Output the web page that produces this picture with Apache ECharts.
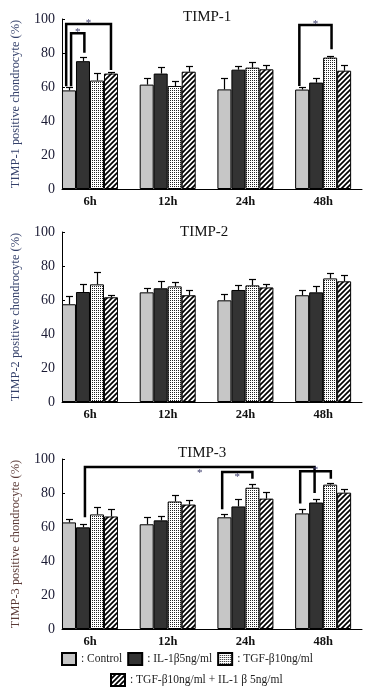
<!DOCTYPE html>
<html><head><meta charset="utf-8">
<script src="https://cdn.jsdelivr.net/npm/echarts@6/dist/echarts.min.js"></script>
<style>html,body{margin:0;padding:0;background:#fff}#c{width:374px;height:694px}</style>
</head><body><div id="c"></div>
<script>
// ---------- DATA ----------
const categories = ['6h', '12h', '24h', '48h'];
const seriesNames = ['Control', 'IL-1β5ng/ml', 'TGF-β10ng/ml', 'TGF-β10ng/ml + IL-1 β 5ng/ml'];
const panelTitles = ['TIMP-1', 'TIMP-2', 'TIMP-3'];
const yAxisNames = ['TIMP-1 positive chondrocyte (%)', 'TIMP-2 positive chondrocyte (%)', 'TIMP-3 positive chondrocyte (%)'];
const yTicks = [0, 20, 40, 60, 80, 100];

// TIMP-1
const timp1Control = [58.0, 61.4, 58.6, 58.5];
const timp1IL = [75.2, 67.9, 70.2, 62.6];
const timp1TGF = [63.8, 60.6, 71.4, 77.3];
const timp1Combo = [67.9, 69.0, 70.4, 69.6];
const timp1ControlErr = [1.8, 3.7, 6.9, 1.7];
const timp1ILErr = [2.7, 3.9, 2.4, 2.9];
const timp1TGFErr = [4.7, 3.2, 3.5, 1.2];
const timp1ComboErr = [1.1, 3.6, 2.8, 3.6];

// TIMP-2
const timp2Control = [57.5, 64.5, 59.8, 62.8];
const timp2IL = [64.7, 66.9, 65.9, 64.5];
const timp2TGF = [69.2, 68.0, 68.6, 72.7];
const timp2Combo = [61.6, 62.8, 67.4, 71.0];
const timp2ControlErr = [4.7, 2.7, 3.9, 2.9];
const timp2ILErr = [4.5, 4.1, 2.7, 3.5];
const timp2TGFErr = [7.1, 2.4, 3.6, 3.0];
const timp2ComboErr = [1.5, 2.9, 1.8, 3.5];

// TIMP-3
const timp3Control = [62.7, 61.6, 65.7, 68.0];
const timp3IL = [59.8, 63.9, 72.1, 74.4];
const timp3TGF = [67.4, 75.0, 83.1, 84.9];
const timp3Combo = [66.2, 73.2, 76.7, 80.2];
const timp3ControlErr = [1.8, 4.1, 1.7, 2.3];
const timp3ILErr = [1.8, 2.3, 4.6, 2.3];
const timp3TGFErr = [4.1, 4.1, 2.4, 1.2];
const timp3ComboErr = [4.1, 2.9, 4.1, 2.4];

// significance brackets: [group1, barSlot1, legBottom1, group2, barSlot2, legBottom2, barTop, asteriskY]
const timp1Brackets = [
  [0, -0.2, 60.5, 0, 3.0, 70.0, 97.0, 98.6],
  [0, 0.15, 60.5, 0, 1.1, 80.2, 91.6, 93.6],
  [3, -0.2, 60.6, 3, 2.1, 82.2, 96.5, 98.0]
];
const timp2Brackets = [];
const timp3Brackets = [
  [0, 1.14, 65.7, 3, 0.89, 80.0, 95.3, 92.6],
  [2, -0.16, 70.5, 2, 2.0, 88.4, 92.3, 90.6],
  [3, -0.14, 73.8, 3, 2.05, 88.4, 92.8, 94.8]
];

// ---------- STYLE / BUILD ----------
const BAR_W = 14;
const FONT = "'Liberation Serif', 'Times New Roman', serif";

function dotPattern() {
  const c = document.createElement('canvas'); c.width = 2; c.height = 2;
  const x = c.getContext('2d');
  x.fillStyle = '#fff'; x.fillRect(0, 0, 2, 2);
  x.fillStyle = '#222';
  x.fillRect(0, 0, 1, 1);
  return c;
}
function hatchPattern() {
  const s = 5;
  const c = document.createElement('canvas'); c.width = s; c.height = s;
  const x = c.getContext('2d');
  x.fillStyle = '#fff'; x.fillRect(0, 0, s, s);
  x.strokeStyle = '#000'; x.lineWidth = 1.7;
  x.beginPath();
  x.moveTo(-1, s + 1); x.lineTo(s + 1, -1);
  x.moveTo(-1, 1); x.lineTo(1, -1);
  x.moveTo(s - 1, s + 1); x.lineTo(s + 1, s - 1);
  x.stroke();
  return c;
}
const fills = ['#c6c6c6', '#333333', { image: dotPattern(), repeat: 'repeat' }, { image: hatchPattern(), repeat: 'repeat' }];

const panels = [
  { means: [timp1Control, timp1IL, timp1TGF, timp1Combo], errs: [timp1ControlErr, timp1ILErr, timp1TGFErr, timp1ComboErr], brackets: timp1Brackets, nameColor: '#34406a' },
  { means: [timp2Control, timp2IL, timp2TGF, timp2Combo], errs: [timp2ControlErr, timp2ILErr, timp2TGFErr, timp2ComboErr], brackets: timp2Brackets, nameColor: '#34406a' },
  { means: [timp3Control, timp3IL, timp3TGF, timp3Combo], errs: [timp3ControlErr, timp3ILErr, timp3TGFErr, timp3ComboErr], brackets: timp3Brackets, nameColor: '#5b3a36' }
];
const gridTops = [19, 232, 459];
const titleTops = [10, 225, 446];
const titleLefts = [183, 180, 178];

function errRender(params, api) {
  const g = api.value(0), s = api.value(1), v = api.value(2), e = api.value(3);
  const base = api.coord([g, v]), top = api.coord([g, v + e]);
  const x = Math.round(base[0] + (s - 1.5) * BAR_W) + 0.5;
  const yt = Math.round(top[1]) + 0.5;
  return { type: 'group', children: [
    { type: 'line', shape: { x1: x, y1: base[1], x2: x, y2: yt }, style: { stroke: '#000', lineWidth: 1.2 } },
    { type: 'line', shape: { x1: x - 3.5, y1: yt, x2: x + 3.5, y2: yt }, style: { stroke: '#000', lineWidth: 1.2 } }
  ] };
}
function bracketRender(params, api) {
  const a = api.coord([api.value(0), api.value(2)]);
  const b = api.coord([api.value(3), api.value(5)]);
  const xa = a[0] + (api.value(1) - 1.5) * BAR_W;
  const xb = b[0] + (api.value(4) - 1.5) * BAR_W;
  const yt = api.coord([api.value(0), api.value(6)])[1];
  const ys = api.coord([api.value(0), api.value(7)])[1];
  return { type: 'group', children: [
    { type: 'polyline', shape: { points: [[xa, a[1]], [xa, yt], [xb, yt], [xb, b[1]]] }, style: { stroke: '#000', lineWidth: 2.5, fill: null, lineJoin: 'miter' } },
    { type: 'text', x: (xa + xb) / 2, y: ys + 2, style: { text: '*', fill: '#3a3a6a', font: '11px ' + FONT, align: 'center', verticalAlign: 'middle' } }
  ] };
}

const grid = [], xAxis = [], yAxis = [], series = [], title = [];
panels.forEach((p, i) => {
  grid.push({ left: 62, top: gridTops[i], width: 300, height: 170 });
  title.push({ text: panelTitles[i], left: titleLefts[i], top: titleTops[i], padding: 0,
    textStyle: { fontFamily: FONT, fontSize: 15, fontWeight: 'normal', color: '#111' } });
  xAxis.push({ type: 'value', gridIndex: i, min: -0.36, max: 3.5,
    axisLine: { show: true, onZero: false, lineStyle: { color: '#000', width: 1 } },
    axisTick: { show: false }, splitLine: { show: false },
    axisLabel: { customValues: categories.map((c, k) => k), formatter: v => categories[Math.round(v)] || '',
      fontFamily: FONT, fontSize: 12.5, fontWeight: 'bold', color: '#111', margin: 6 } });
  yAxis.push({ type: 'value', gridIndex: i, min: yTicks[0], max: yTicks[yTicks.length - 1], interval: 20,
    axisLine: { show: true, onZero: false, lineStyle: { color: '#000', width: 1 } },
    axisTick: { show: true, inside: true, length: 3, lineStyle: { color: '#000' } },
    splitLine: { show: false },
    axisLabel: { fontFamily: FONT, fontSize: 14, color: '#1a1a33', margin: 7 },
    name: yAxisNames[i], nameLocation: 'middle', nameGap: 40,
    nameTextStyle: { fontFamily: FONT, fontSize: 12.4, color: p.nameColor } });
  p.means.forEach((m, s) => {
    series.push({ type: 'bar', name: seriesNames[s], xAxisIndex: i, yAxisIndex: i,
      barWidth: BAR_W, barGap: '0%', z: 2,
      itemStyle: { color: fills[s], borderColor: '#000', borderWidth: 1 },
      data: m.map((v, g) => [g, v]) });
  });
  const errData = [];
  p.means.forEach((m, s) => m.forEach((v, g) => errData.push([g, s, v, p.errs[s][g]])));
  series.push({ type: 'custom', xAxisIndex: i, yAxisIndex: i, renderItem: errRender, z: 3,
    encode: { x: 0, y: 2 }, data: errData, silent: true });
  if (p.brackets.length) {
    series.push({ type: 'custom', xAxisIndex: i, yAxisIndex: i, renderItem: bracketRender, z: 4,
      encode: { x: [0, 3], y: [2, 5, 6, 7] }, data: p.brackets, silent: true, clip: false });
  }
});

const legendText = { fontFamily: FONT, fontSize: 11.5, color: '#222' };
const option = {
  animation: false,
  backgroundColor: '#fff',
  title, grid, xAxis, yAxis, series,
  legend: [
    { data: seriesNames.slice(0, 3), left: 61, top: 652, padding: 0, icon: 'rect', itemWidth: 14, itemHeight: 12,
      itemGap: 5, formatter: ': {name}', textStyle: legendText, selectedMode: false },
    { data: seriesNames.slice(3), left: 110, top: 673, padding: 0, icon: 'rect', itemWidth: 14, itemHeight: 12,
      itemGap: 5, formatter: ': {name}', textStyle: legendText, selectedMode: false }
  ]
};
const chart = echarts.init(document.getElementById('c'), null, { renderer: 'canvas' });
chart.setOption(option);
</script>
</body></html>
